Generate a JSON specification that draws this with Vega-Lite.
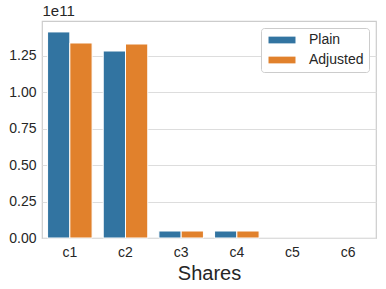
{
  "$schema": "https://vega.github.io/schema/vega-lite/v6.json",
  "width": 334,
  "height": 217,
  "autosize": "none",
  "padding": {"left": 42, "top": 21, "right": 10, "bottom": 51},
  "background": "white",
  "config": {
    "font": "Liberation Sans",
    "view": {"stroke": "#cccccc", "strokeWidth": 1.2},
    "axis": {"labelFont": "Liberation Sans", "titleFont": "Liberation Sans", "labelColor": "#262626", "titleColor": "#262626", "ticks": false, "domain": false}
  },
  "data": {
    "values": [
      {"share": "c1", "series": "Plain", "value": 141500000000},
      {"share": "c1", "series": "Adjusted", "value": 133900000000},
      {"share": "c2", "series": "Plain", "value": 128400000000},
      {"share": "c2", "series": "Adjusted", "value": 133200000000},
      {"share": "c3", "series": "Plain", "value": 4800000000},
      {"share": "c3", "series": "Adjusted", "value": 4800000000},
      {"share": "c4", "series": "Plain", "value": 4800000000},
      {"share": "c4", "series": "Adjusted", "value": 4800000000},
      {"share": "c5", "series": "Plain", "value": 0},
      {"share": "c5", "series": "Adjusted", "value": 0},
      {"share": "c6", "series": "Plain", "value": 0},
      {"share": "c6", "series": "Adjusted", "value": 0}
    ]
  },
  "mark": {"type": "bar", "stroke": "white", "strokeOpacity": 1},
  "encoding": {
    "x": {
      "field": "share", "type": "nominal",
      "scale": {"paddingInner": 0.2, "paddingOuter": 0.1},
      "axis": {"title": "Shares", "titleFontSize": 20, "titleFontWeight": "normal", "labelFontSize": 14, "labelAngle": 0, "labelPadding": 7, "titlePadding": 4, "grid": false}
    },
    "xOffset": {"field": "series", "type": "nominal", "sort": ["Plain", "Adjusted"], "scale": {"paddingInner": 0, "paddingOuter": 0}},
    "y": {
      "field": "value", "type": "quantitative",
      "scale": {"domain": [0, 149000000000], "nice": false, "zero": true},
      "axis": {
        "values": [0, 25000000000, 50000000000, 75000000000, 100000000000, 125000000000],
        "labelExpr": "format(datum.value / 1e11, '.2f')",
        "labelFontSize": 14, "labelPadding": 6,
        "grid": true, "gridColor": "#dddddd", "gridWidth": 1.2,
        "title": "1e11", "titleAngle": 0, "titleFontSize": 15, "titleFontWeight": "normal",
        "titleX": 0, "titleY": -3, "titleAlign": "left", "titleBaseline": "bottom"
      }
    },
    "strokeWidth": {"condition": {"test": "datum.value == 0", "value": 0}, "value": 1},
    "color": {
      "field": "series", "type": "nominal", "sort": ["Plain", "Adjusted"],
      "scale": {"domain": ["Plain", "Adjusted"], "range": ["#3274a1", "#e1812c"]},
      "legend": {
        "title": null, "orient": "top-right", "offset": 7,
        "labelFontSize": 14, "labelColor": "#262626", "labelFont": "Liberation Sans",
        "symbolType": "M-2,-0.5H2V0.5H-2Z", "symbolSize": 182, "symbolStrokeWidth": 0, "symbolOpacity": 1,
        "rowPadding": 6, "labelOffset": 20, "symbolOffset": 9,
        "strokeColor": "#cccccc", "fillColor": "white", "cornerRadius": 3, "padding": 5
      }
    }
  }
}
